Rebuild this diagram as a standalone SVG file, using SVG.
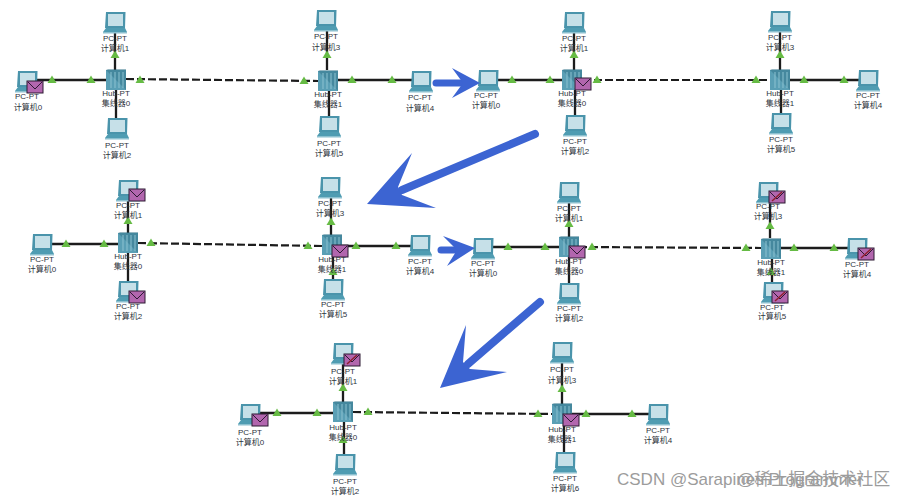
<svg xmlns="http://www.w3.org/2000/svg" width="902" height="499" viewBox="0 0 902 499">
<style>
text{font-family:"Liberation Sans","Noto Sans CJK SC",sans-serif;font-size:8px;fill:#2e343c;text-anchor:middle}
.s{stroke:#1c1c1c;stroke-width:2.300;fill:none}
.d{stroke:#1c1c1c;stroke-width:2.200;fill:none;stroke-dasharray:8 3}
.a{fill:#3c64d2}
.t{stroke:#3c64d2;stroke-linecap:round;fill:none}
.w{font-size:17px;fill:#9c9c9c;text-anchor:start}
</style>
<defs>
<g id="pc"><path d="M-9 -10H10.500L10 6H-10Z" fill="#4a94ab"/><rect x="-7" y="-8" width="15" height="12" fill="#c6e0e8"/><path d="M-9 6H10L12 10H-12Z" fill="#4f9cb2"/><rect x="-12" y="10" width="24" height="1.500" fill="#8cc0cf"/></g>
<g id="hub"><rect x="-10" y="-10" width="20" height="20" fill="#5a9fb5"/><path d="M-10 -10L-8 -11H10V10" fill="#2f7188" opacity=".5"/><path d="M-5 -8V8M-1 -8V8M3 -8V8M7 -8V8" stroke="#8cc2d1" stroke-width="1"/></g>
<g id="env"><rect x="-8" y="-6" width="16" height="12" fill="#b266ae" stroke="#2d1a33"/><path d="M-7 -5L0 2L7 -5" fill="none" stroke="#2d1a33"/></g>
<g id="envx"><use href="#env"/><path d="M-5 4L5 -5" stroke="#8f1f2f" stroke-width="1.500"/></g>
<path id="tri" d="M-4.500 3H4.500L0 -4.500Z" fill="#66bb44"/>
</defs>
<rect width="902" height="499" fill="#fff"/>
<g id="connectors">
<path class="s" d="M28 80H106M115 30V70M116 88V120"/><path class="d" d="M126 79L318 81"/><path class="s" d="M338 80H420M327 30V70M329 90V118"/>
<path class="s" d="M488 80H563M574 30V70M575 90V117"/><path class="d" d="M583 80L770 80"/><path class="s" d="M790 80H868M780 30V70M781 90V115"/>
<path class="s" d="M42 244H118M128 198V233M128 253V283"/><path class="d" d="M138 243L322 246"/><path class="s" d="M342 246H420M331 195V235M333 255V282"/>
<path class="s" d="M483 247H560M569 200V237M569 257V285"/><path class="d" d="M579 247L761 248"/><path class="s" d="M781 248H857M770 200V238M772 259V284"/>
<path class="s" d="M250 413H333M343 361V402M344 422V455"/><path class="d" d="M353 412L552 414"/><path class="s" d="M572 414H658M562 361V404M564 424V454"/>
</g>
<g id="packets">
<use href="#tri" x="52" y="80"/><use href="#tri" x="91" y="80"/><use href="#tri" x="140" y="80"/><use href="#tri" x="115" y="55"/><use href="#tri" x="304" y="81"/><use href="#tri" x="352" y="80"/><use href="#tri" x="392" y="80"/><use href="#tri" x="327" y="55"/>
<use href="#tri" x="512" y="80"/><use href="#tri" x="550" y="80"/><use href="#tri" x="597" y="80"/><use href="#tri" x="574" y="55"/><use href="#tri" x="756" y="80"/><use href="#tri" x="804" y="80"/><use href="#tri" x="844" y="80"/><use href="#tri" x="780" y="55"/>
<use href="#tri" x="66" y="244"/><use href="#tri" x="104" y="244"/><use href="#tri" x="151" y="243"/><use href="#tri" x="128" y="221"/><use href="#tri" x="308" y="246"/><use href="#tri" x="356" y="246"/><use href="#tri" x="396" y="246"/><use href="#tri" x="331" y="222"/><use href="#tri" x="333" y="272"/>
<use href="#tri" x="508" y="247"/><use href="#tri" x="545" y="247"/><use href="#tri" x="592" y="247"/><use href="#tri" x="569" y="224"/><use href="#tri" x="746" y="248"/><use href="#tri" x="794" y="248"/><use href="#tri" x="834" y="248"/><use href="#tri" x="770" y="226"/><use href="#tri" x="771" y="272"/>
<use href="#tri" x="277" y="413"/><use href="#tri" x="317" y="413"/><use href="#tri" x="368" y="412"/><use href="#tri" x="343" y="388"/><use href="#tri" x="343" y="440"/><use href="#tri" x="538" y="414"/><use href="#tri" x="586" y="414"/><use href="#tri" x="632" y="414"/><use href="#tri" x="562" y="389"/>
</g>
<g id="p1-pc0"><use href="#pc" x="27" y="81"/><use href="#env" x="35" y="87"/><text x="27" y="99">PC-PT</text><text x="28" y="110">计算机0</text></g>
<g id="p1-pc1"><use href="#pc" x="115" y="22"/><text x="115" y="41">PC-PT</text><text x="115" y="51">计算机1</text></g>
<g id="p1-hub0"><use href="#hub" x="116" y="80"/><text x="116" y="96">Hub-PT</text><text x="116" y="106">集线器0</text></g>
<g id="p1-pc2"><use href="#pc" x="117" y="128"/><text x="117" y="148">PC-PT</text><text x="117" y="158">计算机2</text></g>
<g id="p1-hub1"><use href="#hub" x="328" y="81"/><text x="328" y="97">Hub-PT</text><text x="328" y="107">集线器1</text></g>
<g id="p1-pc3"><use href="#pc" x="326" y="20"/><text x="326" y="39">PC-PT</text><text x="326" y="50">计算机3</text></g>
<g id="p1-pc5"><use href="#pc" x="329" y="126"/><text x="329" y="146">PC-PT</text><text x="329" y="156">计算机5</text></g>
<g id="p1-pc4"><use href="#pc" x="421" y="81"/><text x="420" y="100">PC-PT</text><text x="420" y="111">计算机4</text></g>

<g id="p2-pc0"><use href="#pc" x="488" y="80"/><text x="486" y="98">PC-PT</text><text x="486" y="108">计算机0</text></g>
<g id="p2-pc1"><use href="#pc" x="574" y="22"/><text x="574" y="41">PC-PT</text><text x="574" y="51">计算机1</text></g>
<g id="p2-hub0"><use href="#hub" x="572" y="80"/><use href="#env" x="583" y="84"/><text x="572" y="96">Hub-PT</text><text x="572" y="106">集线器0</text></g>
<g id="p2-pc2"><use href="#pc" x="575" y="125"/><text x="575" y="144">PC-PT</text><text x="575" y="154">计算机2</text></g>
<g id="p2-hub1"><use href="#hub" x="780" y="80"/><text x="780" y="96">Hub-PT</text><text x="780" y="106">集线器1</text></g>
<g id="p2-pc3"><use href="#pc" x="780" y="21"/><text x="780" y="40">PC-PT</text><text x="780" y="50">计算机3</text></g>
<g id="p2-pc5"><use href="#pc" x="781" y="123"/><text x="781" y="142">PC-PT</text><text x="781" y="152">计算机5</text></g>
<g id="p2-pc4"><use href="#pc" x="868" y="80"/><text x="868" y="98">PC-PT</text><text x="868" y="108">计算机4</text></g>

<g id="p3-pc0"><use href="#pc" x="42" y="244"/><text x="42" y="262">PC-PT</text><text x="42" y="272">计算机0</text></g>
<g id="p3-pc1"><use href="#pc" x="128" y="190"/><use href="#env" x="137" y="195"/><text x="128" y="208">PC-PT</text><text x="128" y="218">计算机1</text></g>
<g id="p3-hub0"><use href="#hub" x="128" y="243"/><text x="128" y="259">Hub-PT</text><text x="128" y="269">集线器0</text></g>
<g id="p3-pc2"><use href="#pc" x="128" y="291"/><use href="#env" x="137" y="297"/><text x="128" y="309">PC-PT</text><text x="128" y="319">计算机2</text></g>
<g id="p3-hub1"><use href="#hub" x="332" y="245"/><use href="#env" x="340" y="251"/><text x="332" y="262">Hub-PT</text><text x="332" y="272">集线器1</text></g>
<g id="p3-pc3"><use href="#pc" x="330" y="187"/><text x="330" y="206">PC-PT</text><text x="330" y="216">计算机3</text></g>
<g id="p3-pc5"><use href="#pc" x="333" y="289"/><text x="333" y="307">PC-PT</text><text x="333" y="317">计算机5</text></g>
<g id="p3-pc4"><use href="#pc" x="420" y="245"/><text x="420" y="264">PC-PT</text><text x="420" y="274">计算机4</text></g>

<g id="p4-pc0"><use href="#pc" x="483" y="248"/><text x="483" y="266">PC-PT</text><text x="483" y="276">计算机0</text></g>
<g id="p4-pc1"><use href="#pc" x="569" y="192"/><text x="569" y="211">PC-PT</text><text x="569" y="221">计算机1</text></g>
<g id="p4-hub0"><use href="#hub" x="569" y="247"/><use href="#env" x="577" y="252"/><text x="569" y="264">Hub-PT</text><text x="569" y="274">集线器0</text></g>
<g id="p4-pc2"><use href="#pc" x="569" y="293"/><text x="569" y="311">PC-PT</text><text x="569" y="321">计算机2</text></g>
<g id="p4-hub1"><use href="#hub" x="771" y="249"/><text x="771" y="265">Hub-PT</text><text x="771" y="275">集线器1</text></g>
<g id="p4-pc3"><use href="#pc" x="768" y="192"/><use href="#envx" x="777" y="197"/><text x="768" y="209">PC-PT</text><text x="768" y="219">计算机3</text></g>
<g id="p4-pc5"><use href="#pc" x="773" y="292"/><use href="#envx" x="780" y="297"/><text x="772" y="310">PC-PT</text><text x="772" y="319">计算机5</text></g>
<g id="p4-pc4"><use href="#pc" x="857" y="248"/><use href="#envx" x="866" y="254"/><text x="857" y="267">PC-PT</text><text x="857" y="277">计算机4</text></g>

<g id="p5-pc0"><use href="#pc" x="250" y="414"/><use href="#env" x="260" y="420"/><text x="250" y="435">PC-PT</text><text x="250" y="445">计算机0</text></g>
<g id="p5-pc1"><use href="#pc" x="343" y="353"/><use href="#envx" x="352" y="360"/><text x="343" y="374">PC-PT</text><text x="343" y="384">计算机1</text></g>
<g id="p5-hub0"><use href="#hub" x="343" y="412"/><text x="343" y="430">Hub-PT</text><text x="343" y="440">集线器0</text></g>
<g id="p5-pc2"><use href="#pc" x="345" y="464"/><text x="345" y="484">PC-PT</text><text x="345" y="494">计算机2</text></g>
<g id="p5-hub1"><use href="#hub" x="562" y="414"/><use href="#env" x="571" y="420"/><text x="562" y="432">Hub-PT</text><text x="562" y="442">集线器1</text></g>
<g id="p5-pc3"><use href="#pc" x="562" y="352"/><text x="562" y="372">PC-PT</text><text x="562" y="383">计算机3</text></g>
<g id="p5-pc6"><use href="#pc" x="565" y="462"/><text x="565" y="481">PC-PT</text><text x="565" y="491">计算机6</text></g>
<g id="p5-pc4"><use href="#pc" x="658" y="414"/><text x="658" y="433">PC-PT</text><text x="658" y="443">计算机4</text></g>

<g id="arrows">
<path class="t" stroke-width="7" d="M436 83H466"/><path class="a" d="M452 68L480 83L452 98L463 83Z"/>
<path class="t" stroke-width="7" d="M441 250H462"/><path class="a" d="M443 236L475 248L447 266L457 250Z"/>
<path class="t" stroke-width="8" d="M535 134L402 190"/><path class="a" d="M412 153L367 204L436 208L402 195L398 187Z"/>
<path class="t" stroke-width="8" d="M540 302L468 364"/><path class="a" d="M466 325L440 388L507 372L470 369L463 362Z"/>
</g>
<g id="watermark"><text class="w" x="617" y="485">CSDN @Sarapines Programmer</text><text class="w" x="737" y="485">@稀土掘金技术社区</text></g>
</svg>
